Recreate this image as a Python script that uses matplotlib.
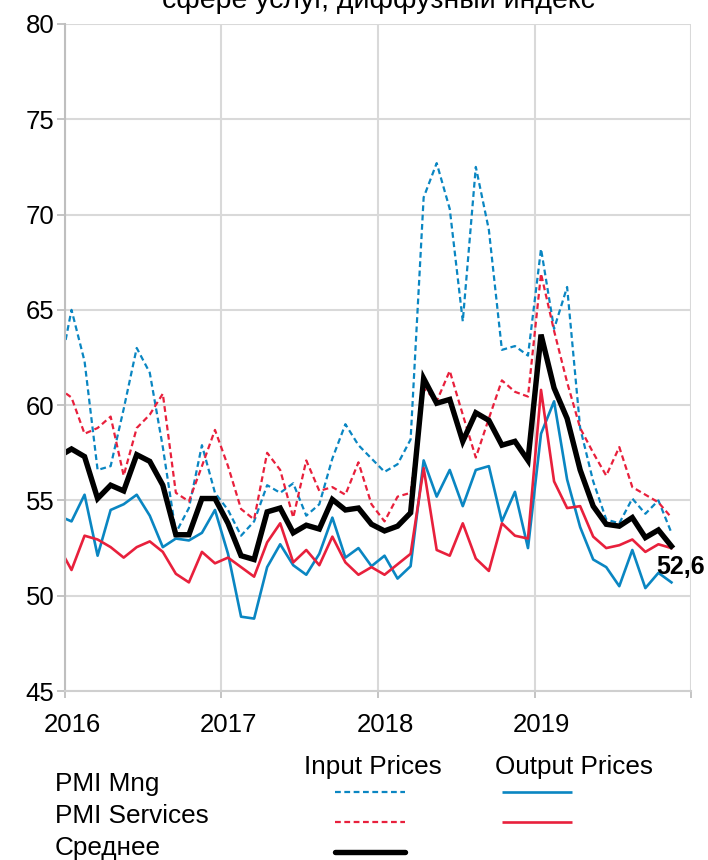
import numpy as np
import matplotlib.pyplot as plt
from matplotlib.lines import Line2D

plt.rcParams['font.family'] = ['Liberation Sans', 'DejaVu Sans']

# monthly data, Dec 2015 .. Nov 2019
months = np.arange(-1, 47)  # 0 = Jan 2016
mng_in = [61.5, 65.0, 62.3, 56.6, 56.8, 59.8, 63.0, 61.7, 57.8, 53.3, 54.6, 57.9, 55.4,
          54.5, 53.15, 53.9, 55.8, 55.4, 55.9, 54.2, 54.8, 57.2, 59.0, 57.9, 57.2,
          56.5, 56.9, 58.2, 70.9, 72.7, 70.3, 64.4, 72.5, 69.2, 62.9, 63.1, 62.6,
          68.2, 64.0, 66.2, 58.8, 56.0, 54.0, 53.8, 55.1, 54.3, 55.0, 53.3]
serv_in = [60.9, 60.4, 58.5, 58.8, 59.4, 56.3, 58.8, 59.5, 60.6, 55.4, 54.95, 56.8, 58.7,
           56.8, 54.55, 54.0, 57.5, 56.6, 54.1, 57.1, 55.5, 55.7, 55.3, 57.0, 54.8,
           53.9, 55.2, 55.4, 60.9, 60.2, 61.8, 59.5, 57.25, 59.3, 61.3, 60.7, 60.45,
           66.9, 63.9, 61.2, 58.8, 57.5, 56.3, 57.8, 55.7, 55.3, 54.9, 54.1]
mng_out = [54.2, 53.9, 55.3, 52.1, 54.5, 54.8, 55.3, 54.2, 52.55, 53.0, 52.9, 53.3, 54.5,
           52.2, 48.9, 48.8, 51.5, 52.7, 51.6, 51.1, 52.2, 54.1, 52.0, 52.5, 51.55,
           52.1, 50.9, 51.55, 57.1, 55.2, 56.6, 54.7, 56.6, 56.8, 53.9, 55.45, 52.5,
           58.5, 60.2, 56.1, 53.6, 51.9, 51.5, 50.5, 52.4, 50.4, 51.2, 50.7]
serv_out = [52.6, 51.35, 53.15, 52.95, 52.55, 52.0, 52.55, 52.85, 52.3, 51.15, 50.7, 52.3, 51.7,
            52.0, 51.5, 51.0, 52.8, 53.8, 51.75, 52.4, 51.6, 53.1, 51.75, 51.1, 51.5,
            51.1, 51.65, 52.2, 56.7, 52.4, 52.1, 53.8, 51.95, 51.3, 53.8, 53.15, 53.0,
            60.8, 56.0, 54.6, 54.7, 53.1, 52.5, 52.65, 52.95, 52.3, 52.7, 52.5]
avg = [57.3, 57.7, 57.3, 55.1, 55.8, 55.5, 57.4, 57.05, 55.8, 53.2, 53.2, 55.1, 55.1,
       53.8, 52.1, 51.9, 54.4, 54.6, 53.3, 53.7, 53.5, 55.05, 54.5, 54.6, 53.75,
       53.4, 53.65, 54.35, 61.4, 60.1, 60.3, 58.1, 59.6, 59.2, 57.9, 58.1, 57.1,
       63.7, 60.9, 59.3, 56.6, 54.7, 53.75, 53.65, 54.1, 53.05, 53.45, 52.6]
years = ['2016', '2017', '2018', '2019']

blue = '#0a86c2'
red = '#e8203c'
dash = (0, (2.6, 1.6))

x = months + 0.5  # points in mid-month

fig = plt.figure(figsize=(7.08, 8.6), dpi=100)
ax = fig.add_axes([0.0918, 0.1965, 0.8842, 0.7756])

ax.plot(x, mng_in, color=blue, lw=1.6, ls=dash)
ax.plot(x, serv_in, color=red, lw=1.6, ls=dash)
ax.plot(x, mng_out, color=blue, lw=1.9)
ax.plot(x, serv_out, color=red, lw=1.9)
ax.plot(x, avg, color='black', lw=3.9, solid_joinstyle='miter')

ax.annotate('52,6', (x[-1], avg[-1]), xytext=(9, -21), textcoords='offset pixels',
            ha='center', va='center', fontsize=18, fontweight='bold', annotation_clip=False)

ax.set_xlim(0, 48)
ax.set_ylim(45, 80)
ax.set_yticks(np.arange(45, 81, 5))
ax.set_xticks(np.arange(0, 49, 12), minor=True)
ax.set_xticks(np.arange(0, 48, 12) + 0.55)
ax.set_xticklabels(years)
ax.tick_params(axis='x', which='major', length=0, pad=16, labelsize=18.5)
ax.tick_params(axis='x', which='minor', length=5, color='#bfbfbf', width=1.3)
ax.tick_params(axis='y', length=6, color='#bfbfbf', width=1.3, labelsize=18.5, pad=1.5)
ax.grid(axis='y', color='#d9d9d9', lw=1.5)
ax.grid(axis='x', which='minor', color='#d9d9d9', lw=1.5)
ax.set_axisbelow(True)
for s in ['top', 'right']:
    ax.spines[s].set_visible(False)
ax.spines['left'].set_color('#bfbfbf')
ax.spines['left'].set_linewidth(1.5)
ax.spines['bottom'].set_color('#cfcfcf')
ax.spines['bottom'].set_linewidth(1.5)

# title, cut off at the top in the original
fig.text(0.535, 1 - 8 / 860, 'сфере услуг, диффузный индекс', ha='center', va='baseline',
         fontsize=20.5)

# legend table
fs = 18.8
fig.text(0.527, 0.108, 'Input Prices', ha='center', va='center', fontsize=fs)
fig.text(0.811, 0.108, 'Output Prices', ha='center', va='center', fontsize=fs)
fig.text(0.0777, 0.0884, 'PMI Mng', ha='left', va='center', fontsize=fs)
fig.text(0.0777, 0.0512, 'PMI Services', ha='left', va='center', fontsize=fs)
fig.text(0.0777, 0.0140, 'Среднее', ha='left', va='center', fontsize=fs)
lx1 = [335 / 708, 405 / 708]
lx2 = [502 / 708, 572 / 708]
for xs, yy, c, st, lw in [(lx1, 0.079, blue, dash, 1.6), (lx2, 0.079, blue, '-', 1.9),
                          (lx1, 0.0442, red, dash, 1.6), (lx2, 0.0442, red, '-', 1.9),
                          (lx1, 0.0093, 'black', '-', 3.9)]:
    fig.add_artist(Line2D(xs, [yy, yy], color=c, ls=st, lw=lw, transform=fig.transFigure,
                          solid_capstyle='round' if c == 'black' else 'butt'))

fig.savefig('out.png', dpi=100)
